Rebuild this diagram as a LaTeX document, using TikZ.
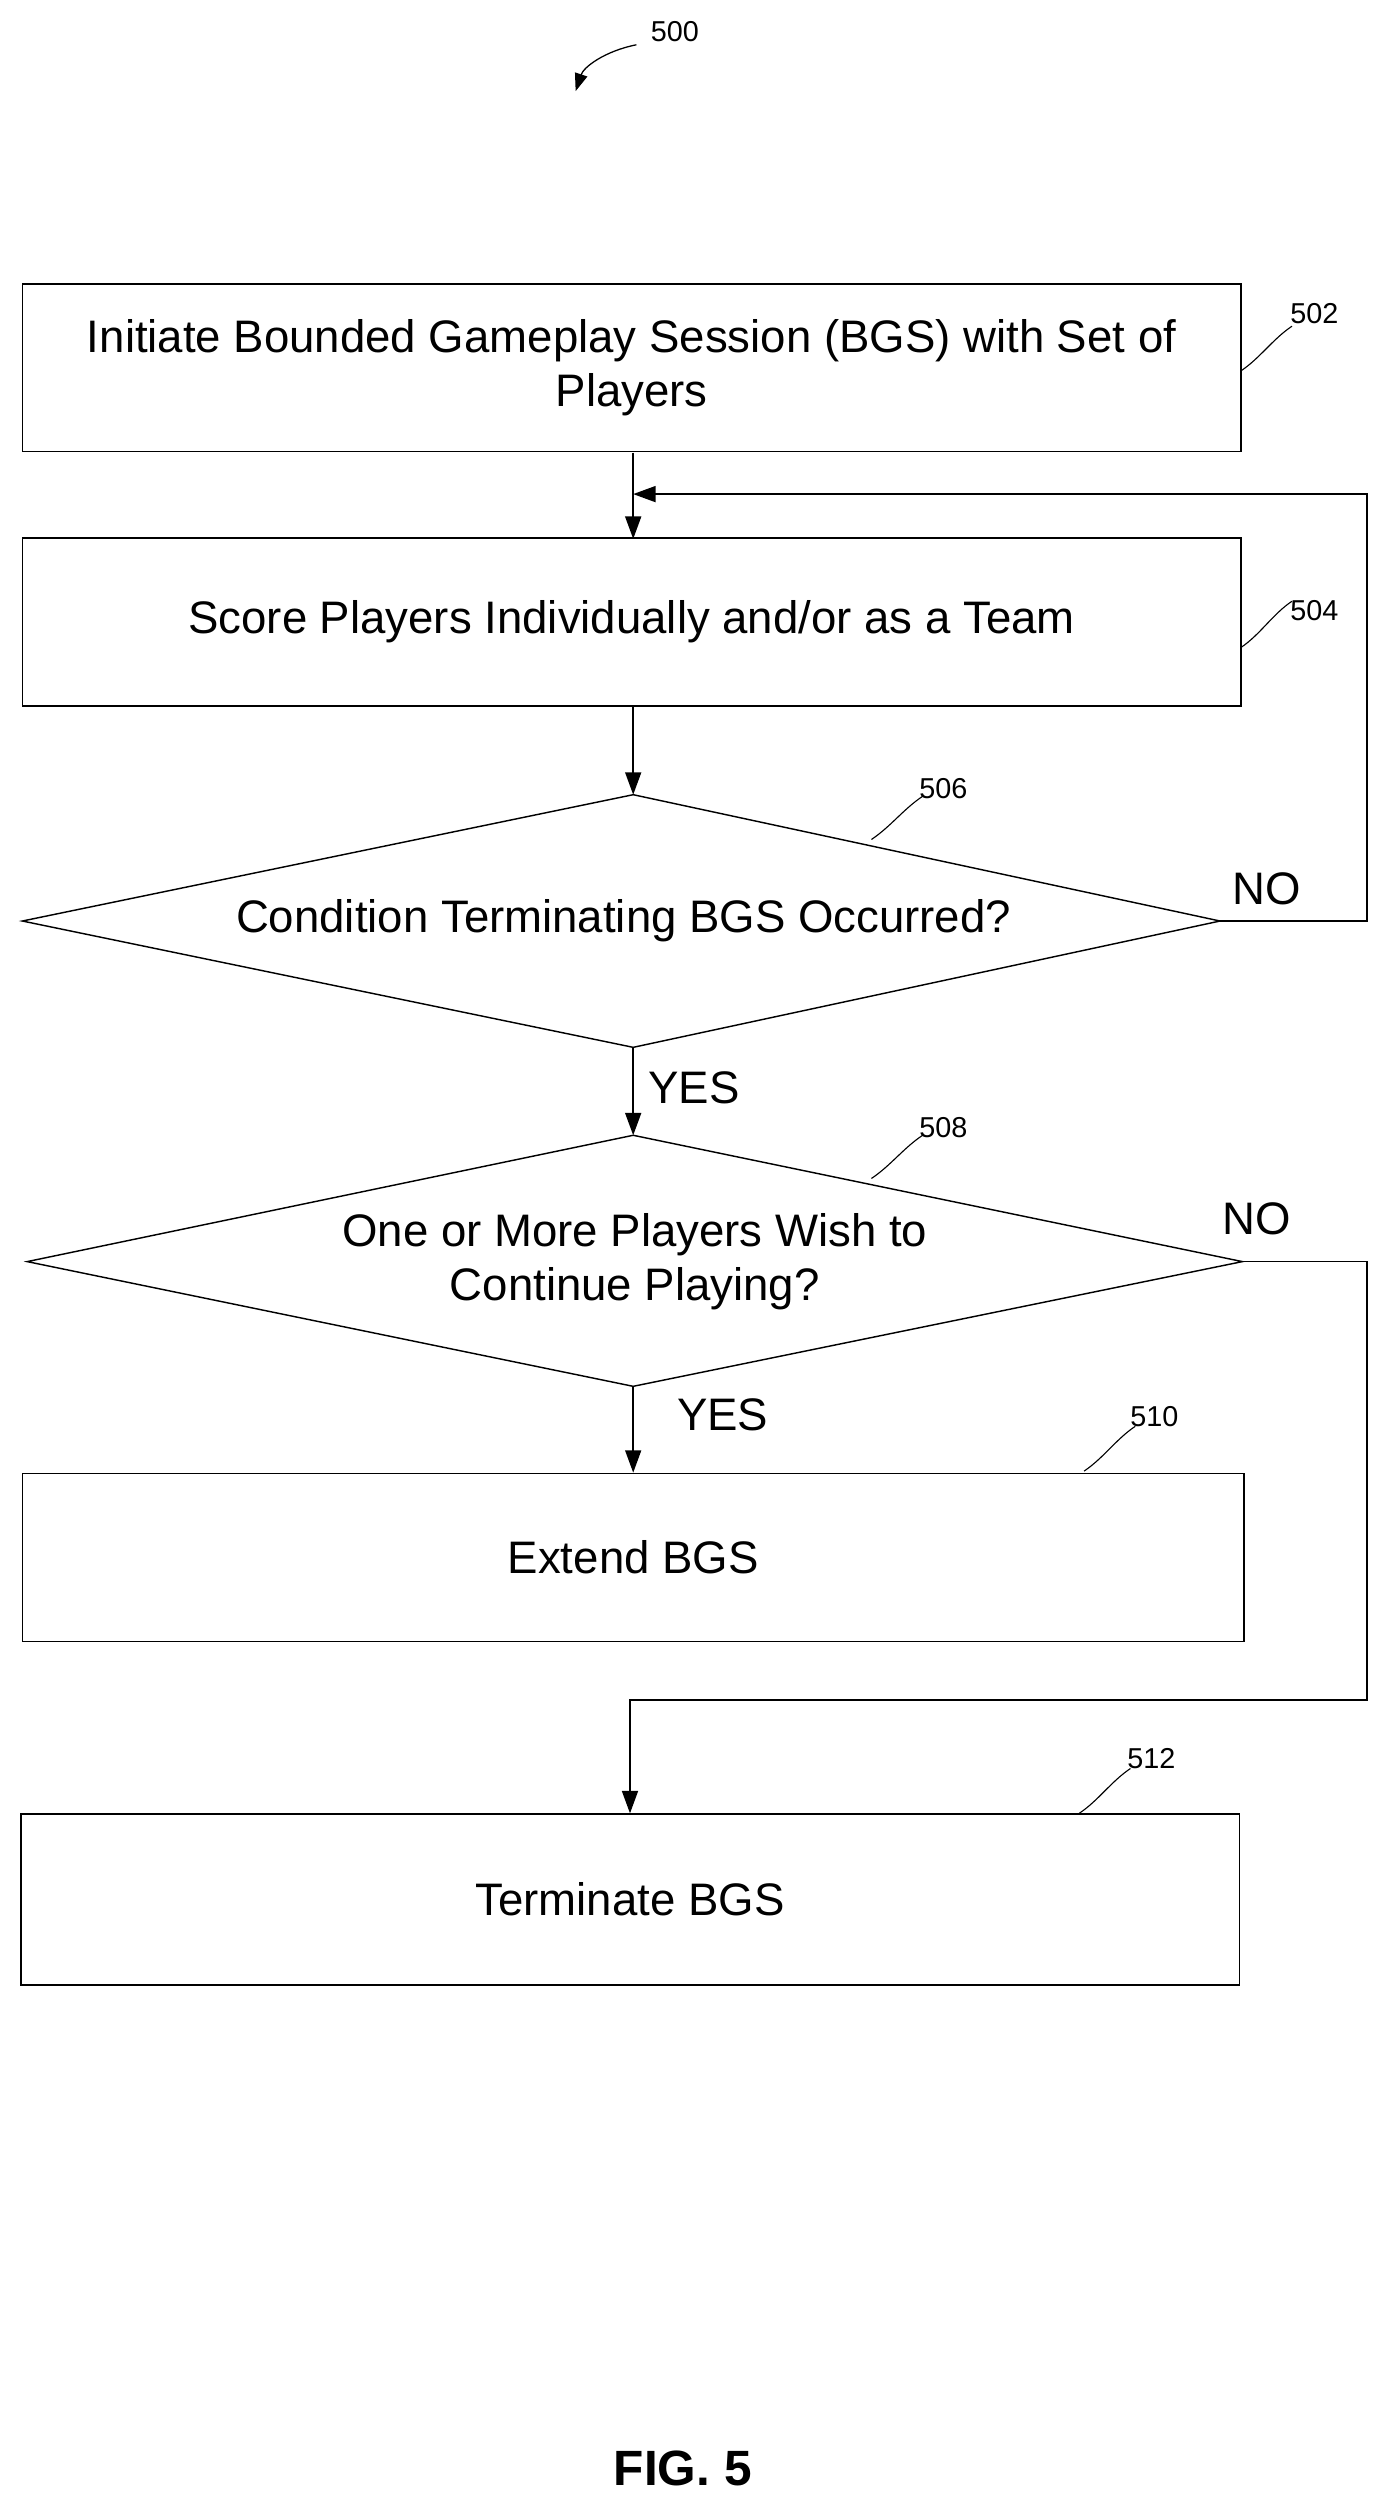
\documentclass[tikz,border=0pt]{standalone}
\usepackage{fontspec}
\setmainfont{Liberation Sans}
\usetikzlibrary{shapes.geometric,arrows.meta}
\tikzset{
  box/.style={draw, minimum width=762pt, minimum height=105pt, align=center, font=\fontsize{28.5}{34}\selectfont, inner sep=0pt, line width=0.9pt},
  flow/.style={-{Triangle[length=14pt,width=10pt]}, line width=1pt},
  lbl/.style={font=\fontsize{18}{21}\selectfont},
  yn/.style={font=\fontsize{28.5}{34}\selectfont}
}
\newcommand{\refline}[2]{\draw[line width=0.7pt] (#1) .. controls ++(12pt,8pt) and ++(-12pt,-8pt) .. (#2);}
\begin{document}
\begin{tikzpicture}[x=1pt,y=-1pt]
\useasboundingbox (0,0) rectangle (864,1561);
\node[box] (b502) at (395,230) {Initiate Bounded Gameplay Session (BGS) with Set of\\Players};
\node[box] (b504) at (395,389) {Score Players Individually and/or as a Team};
\draw[line width=0.9pt] (14,576) -- (396,497) -- (763,576) -- (396,655) -- cycle;
\node[yn] (d506) at (390,576) {Condition Terminating BGS Occurred?};
\coordinate (d506t) at (396,497); \coordinate (d506b) at (396,655); \coordinate (d506r) at (763,576);
\draw[line width=0.9pt] (17,789) -- (396,710) -- (777,789) -- (396,867) -- cycle;
\node[yn, align=center] (d508) at (397,789) {One or More Players Wish to\\Continue Playing?};
\coordinate (d508t) at (396,710); \coordinate (d508b) at (396,867); \coordinate (d508r) at (777,789);
\node[box, minimum width=764pt] (b510) at (396,974) {Extend BGS};
\node[box, minimum height=107pt] (b512) at (394,1188) {Terminate BGS};

\draw[flow] (396,283) -- (396,337);
\draw[flow] (396,442) -- (d506t);
\draw[flow] (d506b) -- (d508t);
\draw[flow] (d508b) -- (396,921);
\coordinate (loop) at (396,309);
\draw[flow] (d506r) -- (855,576) -- (855,309) -- (loop);
\draw[flow] (d508r) -- (855,789) -- (855,1063) -- (394,1063) -- (b512.north);

\node[yn] (no1) at (792,556) {NO};
\node[yn] (no2) at (786,762) {NO};
\node[yn] (yes1) at (434,680) {YES};
\node[yn] (yes2) at (452,885) {YES};

\node[lbl] (l502) at (822,196) {502};
\node[lbl] (l504) at (822,382) {504};
\node[lbl] (l506) at (590,493) {506};
\node[lbl] (l508) at (590,705) {508};
\node[lbl] (l510) at (722,886) {510};
\node[lbl] (l512) at (720,1100) {512};
\node[lbl] (l500) at (422,20) {500};
\refline{776,232}{808,204}
\refline{776,405}{808,376}
\refline{545,525}{577,498}
\refline{545,737}{577,710}
\refline{678,920}{710,892}
\refline{675,1134}{707,1106}
\draw[-{Triangle[length=11pt,width=8pt]}, line width=0.8pt] (398,28) .. controls (378,32) and (365,42) .. (360,57);
\node[font=\bfseries\fontsize{31}{37}\selectfont] (fig) at (427,1544) {FIG. 5};
\end{tikzpicture}
\end{document}
